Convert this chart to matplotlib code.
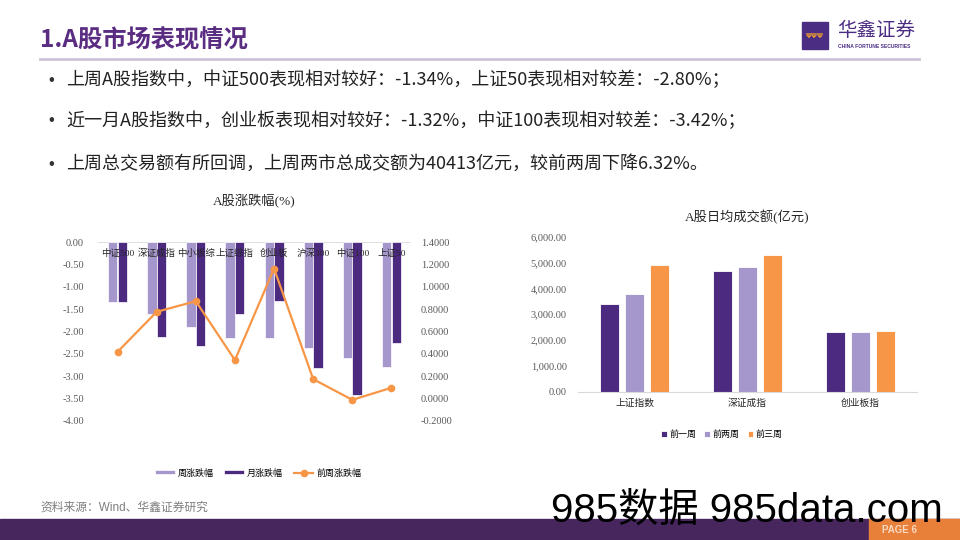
import matplotlib
matplotlib.use('Agg')
from matplotlib import pyplot as plt
from matplotlib.patches import Rectangle
import numpy as np

plt.rcParams['font.family'] = ['Liberation Serif', 'Noto Sans CJK SC']
plt.rcParams['axes.unicode_minus'] = False

# left chart: A股涨跌幅(%)
pct_cats = ['中证500', '深证成指', '中小板综', '上证综指', '创业板', '沪深300', '中证100', '上证50']
week_chg = [-1.34, -1.62, -1.89, -2.15, -2.15, -2.36, -2.59, -2.80]
month_chg = [-1.35, -2.13, -2.33, -1.60, -1.32, -2.81, -3.42, -2.26]
prev_week_chg = [0.418, 0.776, 0.871, 0.344, 1.163, 0.174, -0.011, 0.097]

# right chart: A股日均成交额(亿元)
idx_names = ['上证指数', '深证成指', '创业板指']
wk1 = [3383, 4684, 2299]
wk2 = [3770, 4839, 2310]
wk3 = [4904, 5303, 2349]

bullets = [
    '上周A股指数中，中证500表现相对较好：-1.34%，上证50表现相对较差：-2.80%；',
    '近一月A股指数中，创业板表现相对较好：-1.32%，中证100表现相对较差：-3.42%；',
    '上周总交易额有所回调，上周两市总成交额为40413亿元，较前两周下降6.32%。',
]

LIGHT = '#A597CC'
DARK = '#4B2A80'
ORANGE = '#F79646'
PURPLE = '#5A2D82'
SANS = ['Liberation Sans', 'Noto Sans CJK SC']
CJK = ['Noto Sans CJK SC', 'Liberation Sans']
W, H = 960, 540

fig = plt.figure(figsize=(9.6, 5.4), dpi=100)

def box(x0, y0, x1, y1):
    return [x0 / W, 1 - y1 / H, (x1 - x0) / W, (y1 - y0) / H]

# page decoration layer
bg = fig.add_axes([0, 0, 1, 1])
bg.set_xlim(0, W)
bg.set_ylim(H, 0)
bg.axis('off')
bg.text(40, 40, '1.A股市场表现情况', fontsize=17.5, fontweight='heavy', color=PURPLE,
        family=CJK, va='center', ha='left')
bg.plot([40, 919], [59, 59], color='#CBC3D8', lw=2)
bg.add_patch(Rectangle((802, 22), 26, 27, color='#4B2D83'))
bg.text(815, 36, 'ΨΨΨ', fontsize=5, color='#F0A030', ha='center', va='center',
        family='DejaVu Sans', fontweight='bold')
bg.text(837, 31, '华鑫证券', fontsize=14, color='#4B2D83', family=SANS, va='center')
bg.text(838, 46, 'CHINA FORTUNE SECURITIES', fontsize=3.6, color='#4B2D83',
        family=SANS, va='center', fontweight='bold')

for yy, t in zip([80, 121, 164], bullets):
    bg.text(48, yy, '•', fontsize=12, color='#333333', va='center', family=SANS)
    bg.text(66, yy, t, fontsize=13, color='#222222', va='center', family=CJK)

bg.add_patch(Rectangle((0, 519), W, 21, color='#47265E'))
bg.add_patch(Rectangle((869, 519), W - 869, 21, color='#E8803A'))
bg.text(882, 530, 'PAGE 6', fontsize=7, color='#F8D9C4', fontweight='bold',
        family=SANS, va='center')
bg.text(40, 508, '资料来源：Wind、华鑫证券研究', fontsize=8.5, color='#7F7F7F',
        family=SANS, va='center')
bg.text(551, 522, '985数据 985data.com', fontsize=29, color='black',
        family=SANS, va='baseline')

# ---- left chart ----
ax1 = fig.add_axes(box(98, 242, 411, 421))
x = np.arange(len(pct_cats))
ax1.bar(x - 0.122, week_chg, 0.24, color=LIGHT, edgecolor='white', linewidth=0.5,
        label='周涨跌幅', zorder=2)
ax1.bar(x + 0.122, month_chg, 0.24, color=DARK, edgecolor='white', linewidth=0.5,
        label='月涨跌幅', zorder=2)
ax1.set_xlim(-0.5, len(pct_cats) - 0.5)
ax1.set_ylim(-4, 0)
ax1.set_yticks(np.arange(-4, 0.01, 0.5))
ax1.set_yticklabels(['%.2f' % v for v in np.arange(-4, 0.01, 0.5)])
ax1.set_xticks([])
ax1.axhline(0, color='#D9D9D9', lw=1.2, zorder=1)
for s in ax1.spines.values():
    s.set_visible(False)
ax1.tick_params(axis='y', length=0, pad=10, labelsize=7.5, labelcolor='#595959')
for i, name in enumerate(pct_cats):
    ax1.text(i, -0.25, name, ha='center', va='center', fontsize=6.8,
             color='#262626', zorder=5)

ax2 = ax1.twinx()
ax2.plot(x, prev_week_chg, color=ORANGE, lw=1.6, marker='o', markersize=4.5,
         label='前周涨跌幅', zorder=3)
ax2.set_ylim(-0.2, 1.4)
ax2.set_yticks(np.arange(-0.2, 1.41, 0.2))
ax2.set_yticklabels(['%.4f' % v for v in np.arange(-0.2, 1.41, 0.2)])
for s in ax2.spines.values():
    s.set_visible(False)
ax2.tick_params(axis='y', length=0, pad=7, labelsize=7.5, labelcolor='#595959')

ax1.set_title('A股涨跌幅(%)', fontsize=9.5, color='#262626', pad=27)
h1, l1 = ax1.get_legend_handles_labels()
h2, l2 = ax2.get_legend_handles_labels()
fig.legend(h1 + h2, l1 + l2, loc='center', bbox_to_anchor=(258 / W, 1 - 473 / H),
           ncol=3, frameon=False, fontsize=6.5, handlelength=2.2, handleheight=0.35,
           columnspacing=1.2, handletextpad=0.3)

# ---- right chart ----
ax3 = fig.add_axes(box(578, 236.7, 917, 391.7))
xi = np.arange(len(idx_names))
ax3.bar(xi - 0.22, wk1, 0.174, color=DARK, edgecolor='white', linewidth=0.6, label='前一周')
ax3.bar(xi, wk2, 0.174, color=LIGHT, edgecolor='white', linewidth=0.6, label='前两周')
ax3.bar(xi + 0.22, wk3, 0.174, color=ORANGE, edgecolor='white', linewidth=0.6, label='前三周')
ax3.set_xlim(-0.5, len(idx_names) - 0.5)
ax3.set_ylim(0, 6000)
ax3.set_yticks(np.arange(0, 6001, 1000))
ax3.set_yticklabels(['{:,.2f}'.format(v) for v in np.arange(0, 6001, 1000)])
ax3.set_xticks(xi)
ax3.set_xticklabels(idx_names, fontsize=7, color='#262626')
for k, s in ax3.spines.items():
    s.set_visible(k == 'bottom')
ax3.spines['bottom'].set_color('#D9D9D9')
ax3.tick_params(axis='y', length=0, pad=8, labelsize=7.5, labelcolor='#595959')
ax3.tick_params(axis='x', length=0, pad=5)
ax3.set_title('A股日均成交额(亿元)', fontsize=9.5, color='#262626', pad=11)
ax3.legend(loc='center', bbox_to_anchor=(722 / W, 1 - 435 / H),
           bbox_transform=fig.transFigure, ncol=3, frameon=False, fontsize=6.5,
           handlelength=0.6, handleheight=0.6, columnspacing=0.9, handletextpad=0.3)

fig.savefig('out.png', dpi=100)
